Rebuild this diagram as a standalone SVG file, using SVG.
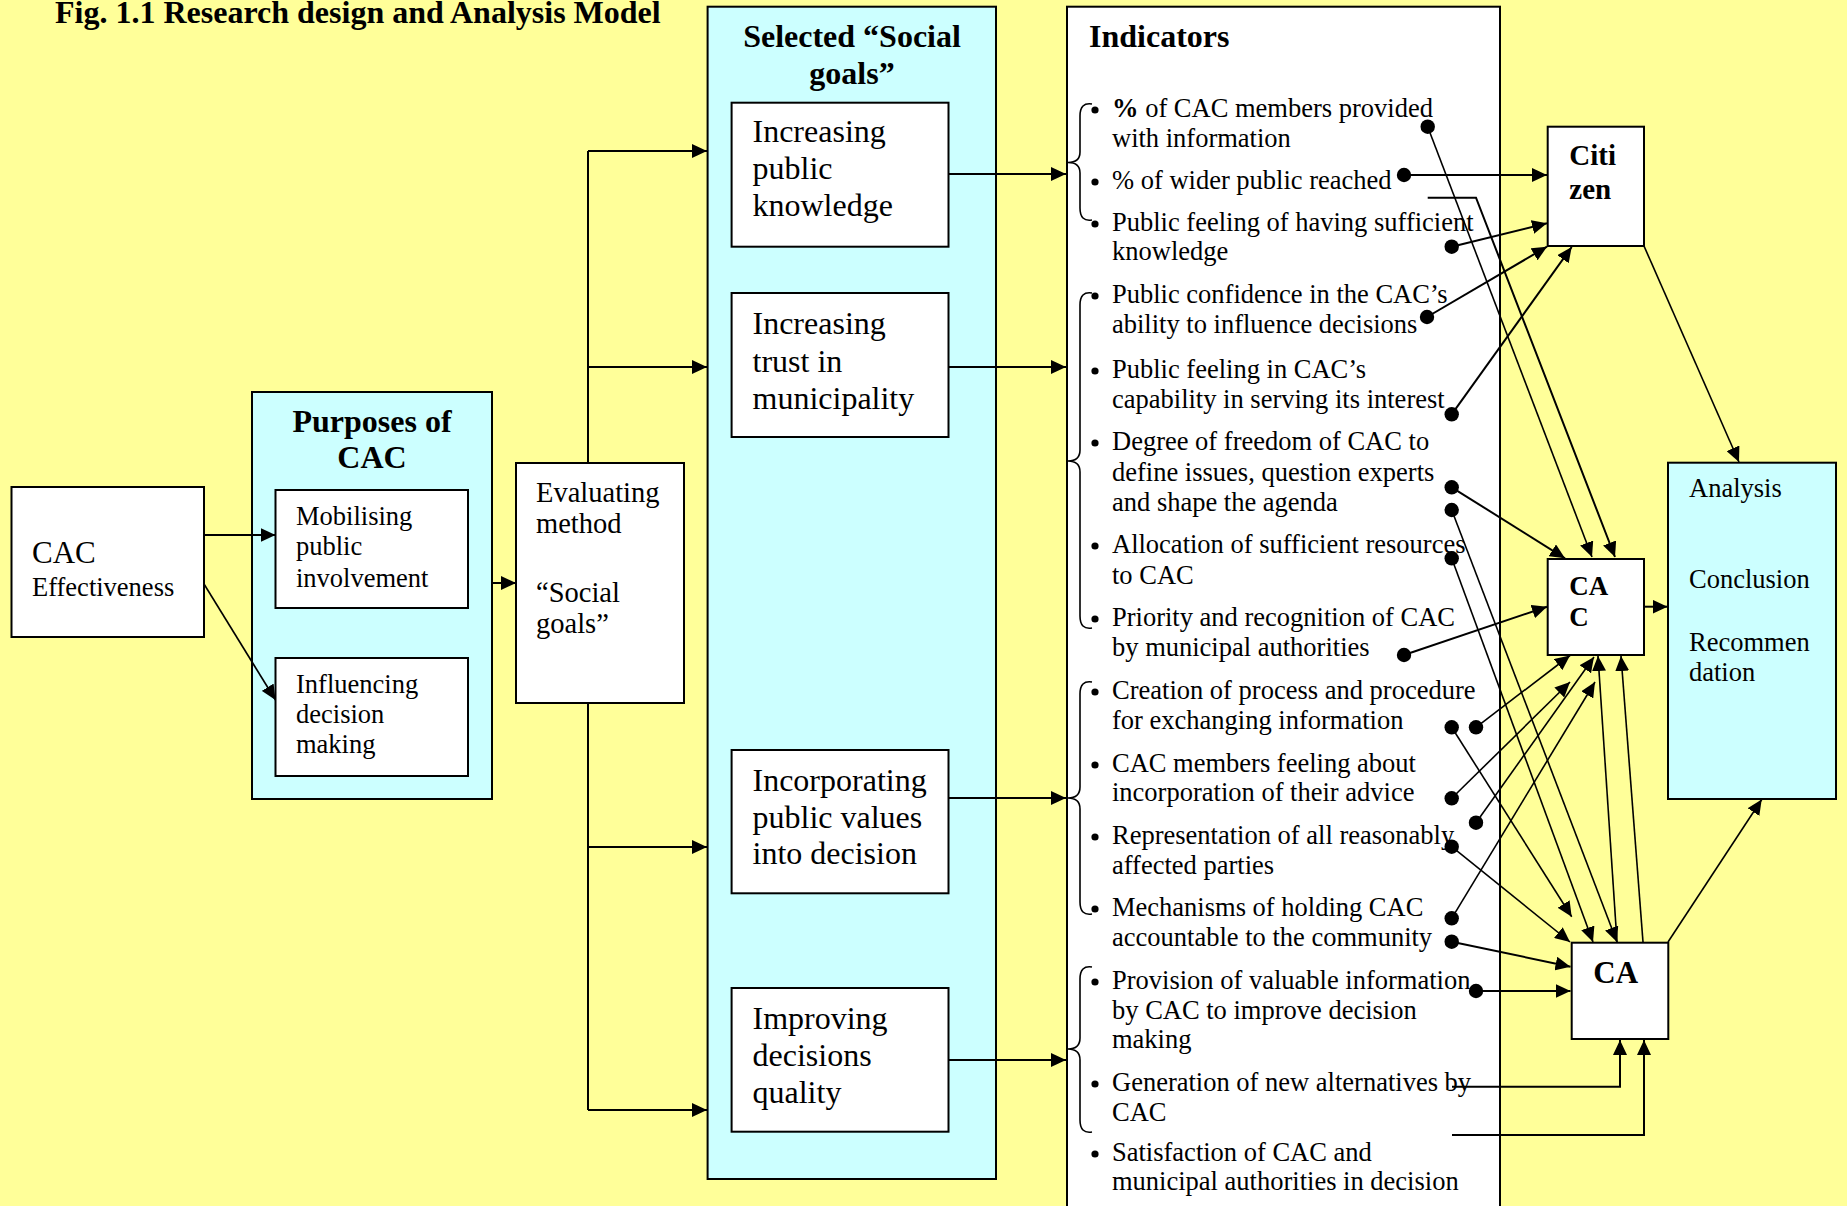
<svg xmlns="http://www.w3.org/2000/svg" width="1847" height="1206" viewBox="0 0 1847 1206">
<style>
text{font-family:"Liberation Serif","Times New Roman",serif;fill:#000}
.bold{font-weight:bold}
.box{stroke:#000;stroke-width:2}
.w{fill:#fff}
.c{fill:#ccffff}
.ln{fill:none;stroke:#000;stroke-width:1.6}
.lk{fill:none;stroke:#000;stroke-width:2}
.arr{marker-end:url(#ah)}
.dot{fill:#000}
.bul{fill:#000}
.brace{fill:none;stroke:#000;stroke-width:1.6}
.f26{font-size:26.5px}
.f28{font-size:28.5px}
.f32{font-size:32px}
.ind{font-size:26.5px}
</style>
<defs>
<marker id="ah" viewBox="0 0 15 14" refX="15" refY="7" markerWidth="15" markerHeight="14" markerUnits="userSpaceOnUse" orient="auto">
<path d="M0,0 L15,7 L0,14 z" fill="#000"/>
</marker>
</defs>

<rect x="0" y="0" width="1847" height="1206" fill="#ffff99"/>

<text class="bold f32" x="55" y="23">Fig. 1.1 Research design and Analysis Model</text>

<!-- container: purposes of CAC -->
<g id="purposes">
<rect class="box c" x="252" y="392" width="240" height="407"/>
<text class="bold f32" text-anchor="middle" x="372" y="432">Purposes of<tspan x="372" y="468">CAC</tspan></text>
</g>

<!-- container: selected social goals -->
<g id="selected-goals">
<rect class="box c" x="707.6" y="6.7" width="288.4" height="1172.3"/>
<text class="bold f32" text-anchor="middle" x="852" y="47">Selected “Social<tspan x="852" y="84">goals”</tspan></text>
</g>

<!-- container: indicators list -->
<g id="indicators">
<rect class="box w" x="1067" y="6.7" width="433" height="1215"/>
<text class="bold f32" x="1089" y="47">Indicators</text>
<g class="brace">
<path d="M1092,104 Q1080,102 1080,116 L1080,152 Q1080,162.5 1068,162.5 Q1080,162.5 1080,173 L1080,208 Q1080,222 1092,220"/>
<path d="M1092,293 Q1080,291 1080,305 L1080,450 Q1080,461 1068,461 Q1080,461 1080,472 L1080,616 Q1080,630 1092,628"/>
<path d="M1092,682 Q1080,680 1080,694 L1080,787 Q1080,798 1068,798 Q1080,798 1080,809 L1080,902 Q1080,916 1092,914"/>
<path d="M1092,967 Q1080,965 1080,979 L1080,1038 Q1080,1049 1068,1049 Q1080,1049 1080,1060 L1080,1120 Q1080,1134 1092,1132"/>
</g>
<g class="bul">
<circle cx="1095" cy="110" r="3.6"/>
<circle cx="1095" cy="182" r="3.6"/>
<circle cx="1095" cy="224" r="3.6"/>
<circle cx="1095" cy="296" r="3.6"/>
<circle cx="1095" cy="371" r="3.6"/>
<circle cx="1095" cy="443" r="3.6"/>
<circle cx="1095" cy="546" r="3.6"/>
<circle cx="1095" cy="619" r="3.6"/>
<circle cx="1095" cy="692" r="3.6"/>
<circle cx="1095" cy="765" r="3.6"/>
<circle cx="1095" cy="837" r="3.6"/>
<circle cx="1095" cy="909" r="3.6"/>
<circle cx="1095" cy="982" r="3.6"/>
<circle cx="1095" cy="1084" r="3.6"/>
<circle cx="1095" cy="1154" r="3.6"/>
</g>
<g class="ind">
<text x="1112" y="117"><tspan class="bold">%</tspan> of CAC members provided<tspan x="1112" y="147">with information</tspan></text>
<text x="1112" y="189">% of wider public reached</text>
<text x="1112" y="231">Public feeling of having sufficient<tspan x="1112" y="260">knowledge</tspan></text>
<text x="1112" y="303">Public confidence in the CAC’s<tspan x="1112" y="333">ability to influence decisions</tspan></text>
<text x="1112" y="378">Public feeling in CAC’s<tspan x="1112" y="408">capability in serving its interest</tspan></text>
<text x="1112" y="450">Degree of freedom of CAC to<tspan x="1112" y="481">define issues, question experts</tspan><tspan x="1112" y="511">and shape the agenda</tspan></text>
<text x="1112" y="553">Allocation of sufficient resources<tspan x="1112" y="584">to CAC</tspan></text>
<text x="1112" y="626">Priority and recognition of CAC<tspan x="1112" y="656">by municipal authorities</tspan></text>
<text x="1112" y="699">Creation of process and procedure<tspan x="1112" y="729">for exchanging information</tspan></text>
<text x="1112" y="772">CAC members feeling about<tspan x="1112" y="801">incorporation of their advice</tspan></text>
<text x="1112" y="844">Representation of all reasonably<tspan x="1112" y="874">affected parties</tspan></text>
<text x="1112" y="916">Mechanisms of holding CAC<tspan x="1112" y="946">accountable to the community</tspan></text>
<text x="1112" y="989">Provision of valuable information<tspan x="1112" y="1019">by CAC to improve decision</tspan><tspan x="1112" y="1048">making</tspan></text>
<text x="1112" y="1091">Generation of new alternatives by<tspan x="1112" y="1121">CAC</tspan></text>
<text x="1112" y="1161">Satisfaction of CAC and<tspan x="1112" y="1190">municipal authorities in decision</tspan></text>
</g>
</g>

<!-- connectors -->
<g id="connectors">
<path class="lk arr" d="M204,535H275.5"/>
<path class="ln arr" d="M204,584L275.5,700"/>
<path class="lk arr" d="M492,583H516"/>
<path class="lk" d="M588,151V1110"/>
<path class="lk arr" d="M588,151H707"/>
<path class="lk arr" d="M588,367H707"/>
<path class="lk arr" d="M588,847H707"/>
<path class="lk arr" d="M588,1110H707"/>
<path class="lk arr" d="M948.5,174H1066"/>
<path class="lk arr" d="M948.5,367H1066"/>
<path class="lk arr" d="M948.5,798H1066"/>
<path class="lk arr" d="M948.5,1060H1066"/>

<path class="ln arr" d="M1427.7,126.7L1592,557"/>
<path class="lk arr" d="M1404,175H1547"/>
<path class="lk arr" d="M1427.7,197.7H1476L1615,557"/>
<path class="lk arr" d="M1451.7,246.7L1547,223.3"/>
<path class="lk arr" d="M1427,317L1547,246.7"/>
<path class="lk arr" d="M1451.7,414.3L1571.7,247"/>
<path class="ln arr" d="M1644,246L1739,462"/>
<path class="lk arr" d="M1451.7,487.3L1565,558.3"/>
<path class="ln arr" d="M1451.7,510L1617,942"/>
<path class="ln arr" d="M1451.7,558.3L1593,942"/>
<path class="lk arr" d="M1404,655L1547,606.7"/>
<path class="lk arr" d="M1644,606.7H1667.5"/>
<path class="ln arr" d="M1451.7,727.3L1571.7,916.7"/>
<path class="ln arr" d="M1476,727.3L1570,655.5"/>
<path class="ln arr" d="M1451.7,798.3L1570,682"/>
<path class="ln arr" d="M1476,822.7L1594,657"/>
<path class="ln arr" d="M1451.7,846.7L1570,942"/>
<path class="ln arr" d="M1451.7,918.3L1595,682"/>
<path class="ln arr" d="M1617,942L1598,656"/>
<path class="ln arr" d="M1643,942L1621,656"/>
<path class="lk arr" d="M1451.7,941.7L1570.5,966.7"/>
<path class="lk arr" d="M1476,991H1570.5"/>
<path class="ln arr" d="M1668,942L1761.7,799.5"/>
<path class="lk arr" d="M1452,1086.7H1620V1040"/>
<path class="lk arr" d="M1452,1135H1644V1040"/>

<g class="dot">
<circle cx="1427.7" cy="126.7" r="7.2"/>
<circle cx="1404" cy="175" r="7.2"/>
<circle cx="1451.7" cy="246.7" r="7.2"/>
<circle cx="1427" cy="317" r="7.2"/>
<circle cx="1451.7" cy="414.3" r="7.2"/>
<circle cx="1451.7" cy="487.3" r="7.2"/>
<circle cx="1451.7" cy="510" r="7.2"/>
<circle cx="1451.7" cy="558.3" r="7.2"/>
<circle cx="1404" cy="655" r="7.2"/>
<circle cx="1451.7" cy="727.3" r="7.2"/>
<circle cx="1476" cy="727.3" r="7.2"/>
<circle cx="1451.7" cy="798.3" r="7.2"/>
<circle cx="1476" cy="822.7" r="7.2"/>
<circle cx="1451.7" cy="846.7" r="7.2"/>
<circle cx="1451.7" cy="918.3" r="7.2"/>
<circle cx="1451.7" cy="941.7" r="7.2"/>
<circle cx="1476" cy="991" r="7.2"/>
</g>
</g>

<!-- nodes -->
<g id="cac-effectiveness">
<rect class="box w" x="11.5" y="487" width="192.5" height="150"/>
<text x="32" y="563" style="font-size:31px">CAC</text>
<text class="f26" x="32" y="596">Effectiveness</text>
</g>

<g id="mobilising">
<rect class="box w" x="275.5" y="490" width="192.5" height="118"/>
<text class="f26" x="296" y="525">Mobilising<tspan x="296" y="555">public</tspan><tspan x="296" y="587">involvement</tspan></text>
</g>

<g id="influencing">
<rect class="box w" x="275.5" y="658" width="192.5" height="118"/>
<text class="f26" x="296" y="693">Influencing<tspan x="296" y="723">decision</tspan><tspan x="296" y="753">making</tspan></text>
</g>

<g id="evaluating">
<rect class="box w" x="516" y="463" width="168" height="240"/>
<text class="f28" x="536" y="502">Evaluating<tspan x="536" y="533">method</tspan><tspan x="536" y="602">“Social</tspan><tspan x="536" y="633">goals”</tspan></text>
</g>

<g id="goal-knowledge">
<rect class="box w" x="731.6" y="102.7" width="216.9" height="144"/>
<text class="f32" x="752.5" y="142">Increasing<tspan x="752.5" y="179">public</tspan><tspan x="752.5" y="216">knowledge</tspan></text>
</g>

<g id="goal-trust">
<rect class="box w" x="731.6" y="293" width="216.9" height="144"/>
<text class="f32" x="752.5" y="334">Increasing<tspan x="752.5" y="372">trust in</tspan><tspan x="752.5" y="409">municipality</tspan></text>
</g>

<g id="goal-values">
<rect class="box w" x="731.6" y="750" width="216.9" height="143.3"/>
<text class="f32" x="752.5" y="791">Incorporating<tspan x="752.5" y="828">public values</tspan><tspan x="752.5" y="864">into decision</tspan></text>
</g>

<g id="goal-quality">
<rect class="box w" x="731.6" y="988" width="216.9" height="143.7"/>
<text class="f32" x="752.5" y="1029">Improving<tspan x="752.5" y="1066">decisions</tspan><tspan x="752.5" y="1103">quality</tspan></text>
</g>

<g id="citizen">
<rect class="box w" x="1547.7" y="126.7" width="96.3" height="119.3"/>
<text class="bold" style="font-size:29px" x="1569.3" y="165">Citi<tspan x="1569.3" y="199">zen</tspan></text>
</g>

<g id="cac">
<rect class="box w" x="1547.7" y="559" width="96.3" height="96"/>
<text class="bold" style="font-size:27px" x="1569.3" y="595">CA<tspan x="1569.3" y="626">C</tspan></text>
</g>

<g id="ca">
<rect class="box w" x="1571.7" y="942.7" width="96.6" height="96.3"/>
<text class="bold" style="font-size:31px" x="1593.3" y="983">CA</text>
</g>

<g id="analysis">
<rect class="box c" x="1668" y="462.7" width="168" height="336.3"/>
<text class="f26" x="1689" y="497">Analysis</text>
<text class="f26" x="1689" y="588">Conclusion</text>
<text class="f26" x="1689" y="651">Recommen<tspan x="1689" y="681">dation</tspan></text>
</g>
</svg>
